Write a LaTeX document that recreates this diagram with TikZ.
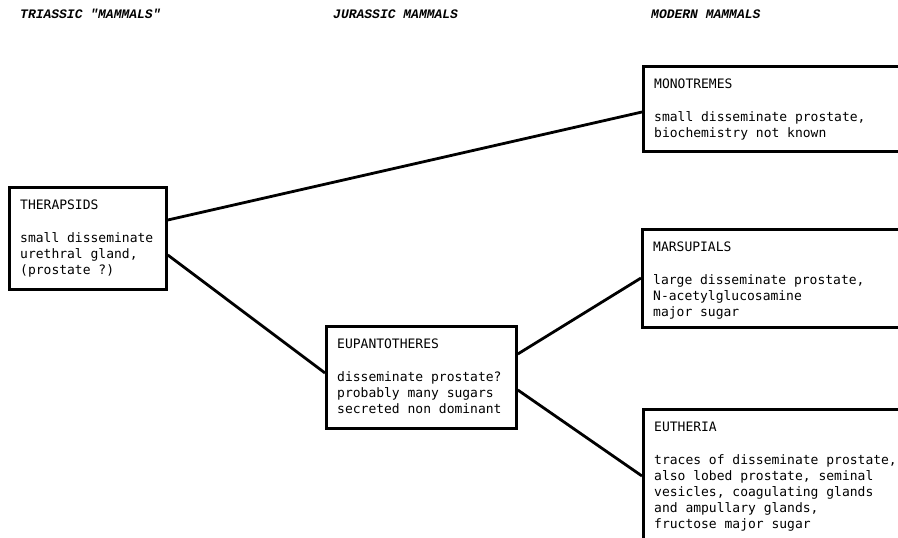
\documentclass[tikz,border=0pt]{standalone}
\usepackage{fontspec}
\newfontfamily\bodyfont{DejaVu Sans Mono}
\newfontfamily\erafont{Liberation Mono}
\tikzset{
  box/.style={draw, line width=2.8pt, rectangle, anchor=north west, inner sep=0pt},
  boxtext/.style={anchor=north west, align=left, inner sep=0pt, font=\bodyfont\fontsize{13}{16}\selectfont},
  era/.style={anchor=base west, inner sep=0pt, font=\erafont\bfseries\itshape\fontsize{13}{16}\selectfont},
  link/.style={line width=2.8pt},
}
\begin{document}
\begin{tikzpicture}[x=1pt,y=-1pt]
    \useasboundingbox (0,0) rectangle (898,538);
    \clip (0,0) rectangle (898,538);

    \node[era] (triassic) at (20,19) {TRIASSIC "MAMMALS"};
    \node[era] (jurassic) at (333,19) {JURASSIC MAMMALS};
    \node[era] (modern) at (651,19) {MODERN MAMMALS};

    \node[box,minimum width=157pt,minimum height=102pt] (therapsids) at (8,186) {};
    \node[box,minimum width=190pt,minimum height=102pt] (eupantotheres) at (325,325) {};
    \node[box,minimum width=300pt,minimum height=85pt] (monotremes) at (642,65) {};
    \node[box,minimum width=300pt,minimum height=98pt] (marsupials) at (641,228) {};
    \node[box,minimum width=300pt,minimum height=160pt] (eutheria) at (642,408) {};

    \node[boxtext] (therapsidstext) at ([shift={(12pt,-14pt)}]therapsids.north west)
        {THERAPSIDS\\[17pt] small disseminate\\ urethral gland,\\ (prostate ?)};
    \node[boxtext] (eupantotherestext) at ([shift={(12pt,-14pt)}]eupantotheres.north west)
        {EUPANTOTHERES\\[17pt] disseminate prostate?\\ probably many sugars\\ secreted non dominant};
    \node[boxtext] (monotremestext) at ([shift={(12pt,-14pt)}]monotremes.north west)
        {MONOTREMES\\[17pt] small disseminate prostate,\\ biochemistry not known};
    \node[boxtext] (marsupialstext) at ([shift={(12pt,-14pt)}]marsupials.north west)
        {MARSUPIALS\\[17pt] large disseminate prostate,\\ N-acetylglucosamine\\ major sugar};
    \node[boxtext] (eutheriatext) at ([shift={(12pt,-14pt)}]eutheria.north west)
        {EUTHERIA\\[17pt] traces of disseminate prostate,\\ also lobed prostate, seminal\\ vesicles, coagulating glands\\ and ampullary glands,\\ fructose major sugar};

    \draw[link] ([yshift=-34pt]therapsids.north east) -- ([yshift=-47pt]monotremes.north west);
    \draw[link] ([yshift=-69pt]therapsids.north east) -- ([yshift=-48pt]eupantotheres.north west);
    \draw[link] ([yshift=-29pt]eupantotheres.north east) -- ([yshift=-50pt]marsupials.north west);
    \draw[link] ([yshift=-65pt]eupantotheres.north east) -- ([yshift=-68pt]eutheria.north west);
\end{tikzpicture}
\end{document}
